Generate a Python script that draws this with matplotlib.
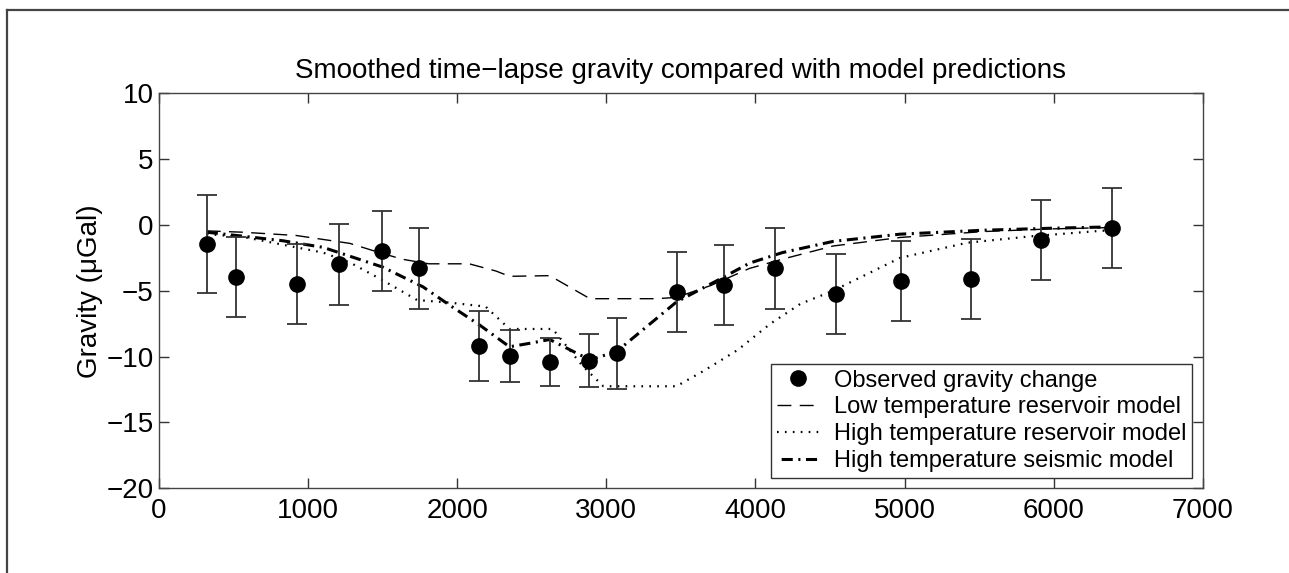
import matplotlib
matplotlib.use("Agg")
import matplotlib.pyplot as plt
from matplotlib.lines import Line2D

plt.rcParams["font.family"] = ["Liberation Sans", "DejaVu Sans"]
plt.rcParams["lines.scale_dashes"] = False

# observed gravity change (smoothed) with error bars
obs_x = [322, 517, 927, 1209, 1498, 1746, 2149, 2351, 2619, 2881, 3071,
         3472, 3788, 4130, 4540, 4977, 5447, 5917, 6391]
obs_y = [-1.45, -3.95, -4.5, -3.0, -2.0, -3.3, -9.2, -9.95, -10.4, -10.3, -9.75,
         -5.1, -4.57, -3.3, -5.25, -4.25, -4.1, -1.15, -0.25]
obs_err = [3.75, 3.05, 3.05, 3.05, 3.05, 3.05, 2.65, 2.0, 1.8, 2.0, 2.7,
           3.05, 3.05, 3.05, 3.05, 3.05, 3.05, 3.05, 3.05]

# low temperature reservoir model
low_x = [320, 560, 920, 1100, 1280, 1450, 1630, 1810, 2080, 2260, 2350, 2620,
         2890, 3340, 3470, 3700, 3960, 4180, 4520, 4970, 5530, 5980, 6370]
low_y = [-0.45, -0.55, -0.8, -1.1, -1.4, -2.0, -2.6, -2.95, -2.95, -3.5, -3.9, -3.85,
         -5.6, -5.6, -5.5, -4.6, -3.3, -2.6, -1.6, -0.95, -0.5, -0.3, -0.2]

# high temperature reservoir model
high_x = [320, 560, 830, 1100, 1280, 1500, 1730, 1950, 2190, 2350, 2640, 2840,
          2980, 3470, 3650, 3880, 4100, 4300, 4520, 4970, 5420, 5860, 6310, 6400]
high_y = [-0.7, -0.9, -1.5, -2.1, -2.85, -4.2, -5.7, -5.9, -6.2, -7.9, -7.9, -10.7,
          -12.25, -12.25, -11.1, -9.5, -7.5, -6.0, -5.0, -2.5, -1.35, -0.85, -0.45, -0.4]

# high temperature seismic model
seis_x = [320, 560, 830, 1100, 1500, 1770, 1950, 2150, 2350, 2480, 2620, 2890,
          3070, 3470, 3780, 3960, 4180, 4520, 4970, 5530, 5980, 6370]
seis_y = [-0.55, -0.85, -1.2, -1.7, -3.2, -4.7, -6.1, -7.6, -9.25, -9.0, -8.7, -10.25,
          -9.6, -5.85, -4.0, -2.9, -2.1, -1.25, -0.7, -0.4, -0.25, -0.15]

fig = plt.figure(figsize=(12.89, 5.73), dpi=100)
ax = fig.add_axes([0.1234, 0.1478, 0.8097, 0.6894])

low_style = dict(color="black", linewidth=1.0, linestyle=(0, (10, 6)))
high_style = dict(color="black", linewidth=1.6, linestyle=(0, (1.2, 4.5)))
seis_style = dict(color="black", linewidth=2.2, linestyle=(0, (8, 4, 1.5, 4)))

ax.plot(low_x, low_y, **low_style)
ax.plot(high_x, high_y, **high_style)
ax.plot(seis_x, seis_y, **seis_style)
ax.errorbar(obs_x, obs_y, yerr=obs_err, fmt="o", color="black", markersize=11,
            ecolor="#333333", elinewidth=1.3, capsize=7, capthick=1.3, zorder=5)

ax.set_xlim(0, 7000)
ax.set_ylim(-20, 10)
ax.set_xticks(range(0, 7001, 1000))
ax.set_yticks(range(-20, 11, 5))
ax.tick_params(direction="in", length=7, width=1.0, colors="#333333",
               labelcolor="black", labelsize=20, top=True, right=True, pad=4)
ax.tick_params(axis="x", pad=7)
for s in ax.spines.values():
    s.set_color("#444444")
    s.set_linewidth(1.0)

ax.set_ylabel("Gravity (\u03bcGal)", fontsize=20, labelpad=2)
ax.set_title("Smoothed time\u2212lapse gravity compared with model predictions",
             fontsize=20, pad=11)

handles = [
    Line2D([], [], marker="o", linestyle="none", color="black", markersize=11),
    Line2D([], [], **low_style),
    Line2D([], [], **high_style),
    Line2D([], [], color="black", linewidth=2.2, linestyle=(2.5, (1.5, 4, 8, 4))),
]
labels = ["Observed gravity change", "Low temperature reservoir model",
          "High temperature reservoir model", "High temperature seismic model"]
leg = ax.legend(handles, labels, loc="lower right", fontsize=17, handlelength=1.8,
                handletextpad=0.6, labelspacing=0.2, borderaxespad=0.45,
                borderpad=0.25, fancybox=False, framealpha=1, edgecolor="#333333")
leg.get_frame().set_linewidth(1.0)

# page frame lines (top and left)
fig.add_artist(Line2D([7 / 1289, 1], [1 - 10 / 573, 1 - 10 / 573],
                      transform=fig.transFigure, color="#444444", linewidth=1.6))
fig.add_artist(Line2D([7 / 1289, 7 / 1289], [0, 1 - 10 / 573],
                      transform=fig.transFigure, color="#444444", linewidth=1.6))

fig.savefig("out.png", dpi=100)
